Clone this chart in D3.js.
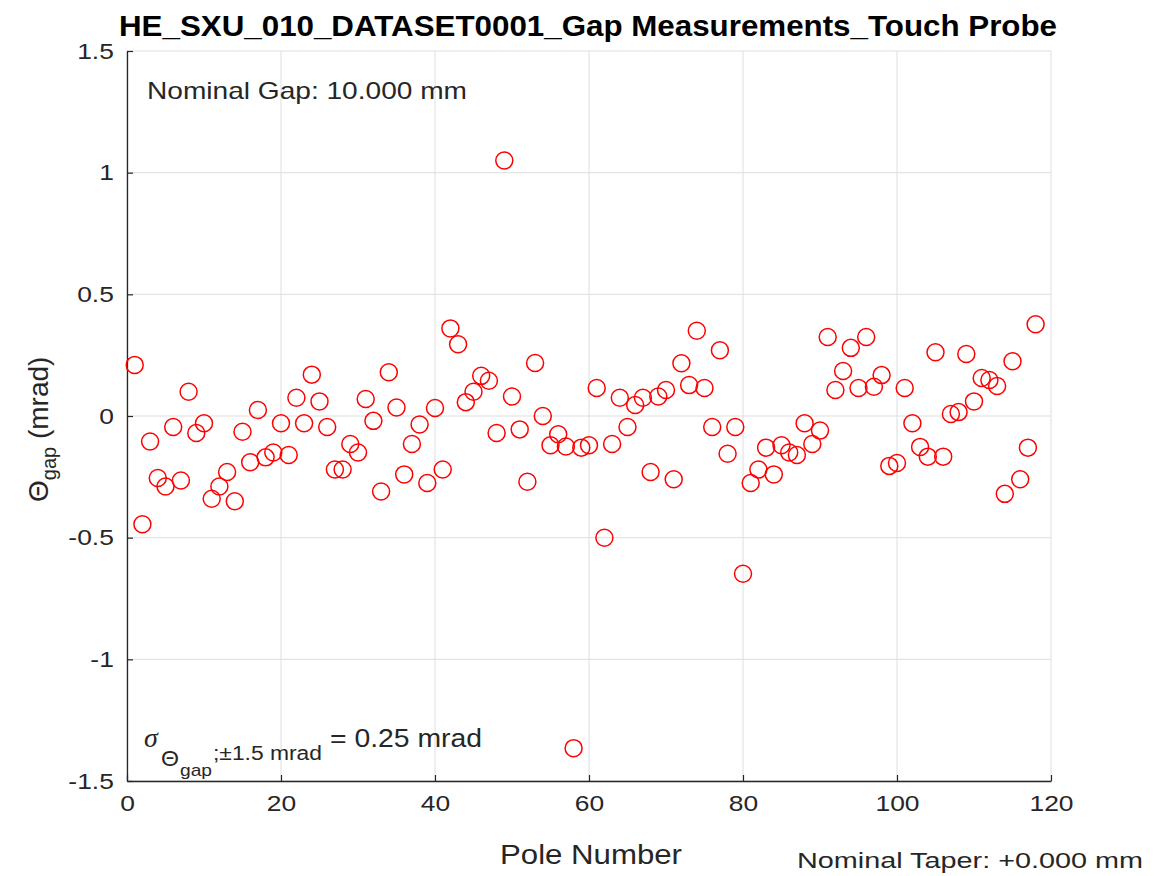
<!DOCTYPE html>
<html>
<head>
<meta charset="utf-8">
<script src="https://cdn.jsdelivr.net/npm/d3@7"></script>
<style>
  html, body { margin: 0; padding: 0; background: #ffffff; }
  svg { display: block; font-family: "Liberation Sans", Arial, Helvetica, sans-serif; }
</style>
</head>
<body>
<svg id="chart" width="1155" height="876"></svg>
<script>
// Pole numbers along the undulator
const poles = [
  1, 2, 3, 4, 5, 6, 7, 8, 9, 10, 11, 12, 13, 14, 15, 16, 17, 18, 19, 20,
  21, 22, 23, 24, 25, 26, 27, 28, 29, 30, 31, 32, 33, 34, 35, 36, 37, 38, 39, 40,
  41, 42, 43, 44, 45, 46, 47, 48, 49, 50, 51, 52, 53, 54, 55, 56, 57, 58, 59, 60,
  61, 62, 63, 64, 65, 66, 67, 68, 69, 70, 71, 72, 73, 74, 75, 76, 77, 78, 79, 80,
  81, 82, 83, 84, 85, 86, 87, 88, 89, 90, 91, 92, 93, 94, 95, 96, 97, 98, 99, 100,
  101, 102, 103, 104, 105, 106, 107, 108, 109, 110, 111, 112, 113, 114, 115, 116, 117, 118
];

// Gap angle per pole (mrad)
const thetaGap = [
  0.21, -0.445, -0.105, -0.255, -0.29, -0.045, -0.265, 0.10, -0.07, -0.03,
  -0.34, -0.29, -0.23, -0.35, -0.065, -0.19, 0.025, -0.17, -0.15, -0.03,
  -0.16, 0.075, -0.03, 0.17, 0.06, -0.045, -0.22, -0.22, -0.115, -0.15,
  0.07, -0.02, -0.31, 0.18, 0.035, -0.24, -0.115, -0.035, -0.275, 0.033,
  -0.22, 0.36, 0.295, 0.057, 0.10, 0.165, 0.145, -0.07, 1.05, 0.08,
  -0.055, -0.27, 0.218, 0.0, -0.12, -0.075, -0.125, -1.365, -0.13, -0.12,
  0.115, -0.5, -0.115, 0.075, -0.045, 0.045, 0.075, -0.23, 0.08, 0.107,
  -0.26, 0.217, 0.127, 0.35, 0.115, -0.045, 0.27, -0.155, -0.045, -0.648,
  -0.275, -0.22, -0.13, -0.24, -0.12, -0.15, -0.16, -0.03, -0.115, -0.06,
  0.325, 0.107, 0.185, 0.28, 0.115, 0.325, 0.12, 0.168, -0.205, -0.193,
  0.115, -0.03, -0.127, -0.167, 0.262, -0.167, 0.008, 0.016, 0.255, 0.06,
  0.156, 0.148, 0.123, -0.32, 0.225, -0.26, -0.13, 0.377
];

const xTicks = [0, 20, 40, 60, 80, 100, 120];
const yTicks = [-1.5, -1, -0.5, 0, 0.5, 1, 1.5];
const yTickLabels = ["-1.5", "-1", "-0.5", "0", "0.5", "1", "1.5"];

const titleText = "HE_SXU_010_DATASET0001_Gap Measurements_Touch Probe";
const gapNote = "Nominal Gap: 10.000 mm";
const taperNote = "Nominal Taper: +0.000 mm";
const sigmaValue = "= 0.25 mrad";

const svg = d3.select("#chart");
const plot = { left: 127, right: 1051, top: 51, bottom: 781 };

const x = d3.scaleLinear().domain([0, 120]).range([plot.left, plot.right]);
const y = d3.scaleLinear().domain([-1.5, 1.5]).range([plot.bottom, plot.top]);

const gridColor = "#dedede";
const axisColor = "#262626";
const textColor = "#262626";

// Grid lines
const grid = svg.append("g");
grid.selectAll("line.vx").data(xTicks).join("line")
  .attr("x1", d => x(d)).attr("x2", d => x(d))
  .attr("y1", plot.top).attr("y2", plot.bottom)
  .attr("stroke", gridColor).attr("stroke-width", 1);
grid.selectAll("line.hy").data(yTicks).join("line")
  .attr("x1", plot.left).attr("x2", plot.right)
  .attr("y1", d => y(d)).attr("y2", d => y(d))
  .attr("stroke", gridColor).attr("stroke-width", 1);

// Axes with inward ticks
const xAxis = d3.axisBottom(x).tickValues(xTicks).tickSizeInner(-6).tickSizeOuter(0).tickPadding(14);
const yAxis = d3.axisLeft(y).tickValues(yTicks).tickSizeInner(-6).tickSizeOuter(0).tickPadding(12)
  .tickFormat((d, i) => yTickLabels[i]);

const gx = svg.append("g").attr("transform", `translate(0,${plot.bottom})`).call(xAxis);
const gy = svg.append("g").attr("transform", `translate(${plot.left},0)`).call(yAxis);

[gx, gy].forEach(g => {
  g.select(".domain").attr("stroke", axisColor).attr("stroke-width", 1.3);
  g.selectAll(".tick line").attr("stroke", axisColor).attr("stroke-width", 1.2);
  g.selectAll(".tick text")
    .attr("fill", textColor)
    .attr("font-size", 22)
    .attr("font-family", "Liberation Sans, Arial, sans-serif");
});
gx.selectAll(".tick text").attr("dy", "0.71em").attr("transform", "scale(1.2,1)");
gy.selectAll(".tick text").attr("transform", "scale(1.2,1)").attr("x", -11);

// Data markers
svg.append("g").selectAll("circle").data(poles).join("circle")
  .attr("cx", (d) => x(d))
  .attr("cy", (d, i) => y(thetaGap[i]))
  .attr("r", 8.5)
  .attr("fill", "none")
  .attr("stroke", "#ff0000")
  .attr("stroke-width", 1.5);

// Title
svg.append("text")
  .attr("x", 588).attr("y", 36)
  .attr("text-anchor", "middle")
  .attr("font-size", 29).attr("font-weight", "bold")
  .attr("fill", "#000")
  .attr("textLength", 938).attr("lengthAdjust", "spacingAndGlyphs")
  .text(titleText);

// Nominal gap note
svg.append("text")
  .attr("x", 147).attr("y", 99)
  .attr("font-size", 24).attr("fill", textColor)
  .attr("textLength", 320).attr("lengthAdjust", "spacingAndGlyphs")
  .text(gapNote);

// X axis label
svg.append("text")
  .attr("x", 500).attr("y", 864)
  .attr("font-size", 27).attr("fill", textColor)
  .attr("textLength", 182).attr("lengthAdjust", "spacingAndGlyphs")
  .text("Pole Number");

// Nominal taper note
svg.append("text")
  .attr("x", 797).attr("y", 868)
  .attr("font-size", 22).attr("fill", textColor)
  .attr("textLength", 346).attr("lengthAdjust", "spacingAndGlyphs")
  .text(taperNote);

// Y axis label: Θ_gap (mrad)
const yl = svg.append("text")
  .attr("transform", "translate(48,502) rotate(-90)")
  .attr("font-size", 28).attr("fill", textColor);
yl.append("tspan").text("\u0398");
yl.append("tspan").attr("font-size", 20).attr("dy", 8).text("gap");
yl.append("tspan").attr("dy", -8).text(" (mrad)");

// Standard deviation annotation
svg.append("text")
  .attr("x", 144).attr("y", 747)
  .attr("font-size", 28).attr("font-style", "italic")
  .attr("font-family", "Liberation Serif, Times New Roman, serif")
  .attr("fill", textColor).text("\u03C3");
svg.append("text")
  .attr("x", 161).attr("y", 766)
  .attr("font-size", 22).attr("fill", textColor)
  .attr("textLength", 18).attr("lengthAdjust", "spacingAndGlyphs")
  .text("\u0398");
svg.append("text")
  .attr("x", 180).attr("y", 776)
  .attr("font-size", 17).attr("fill", textColor)
  .attr("textLength", 32).attr("lengthAdjust", "spacingAndGlyphs")
  .text("gap");
svg.append("text")
  .attr("x", 213).attr("y", 760)
  .attr("font-size", 20).attr("fill", textColor)
  .attr("textLength", 109).attr("lengthAdjust", "spacingAndGlyphs")
  .text(";\u00B11.5 mrad");
svg.append("text")
  .attr("x", 330).attr("y", 747)
  .attr("font-size", 25).attr("fill", textColor)
  .attr("textLength", 152).attr("lengthAdjust", "spacingAndGlyphs")
  .text(sigmaValue);
</script>
</body>
</html>
